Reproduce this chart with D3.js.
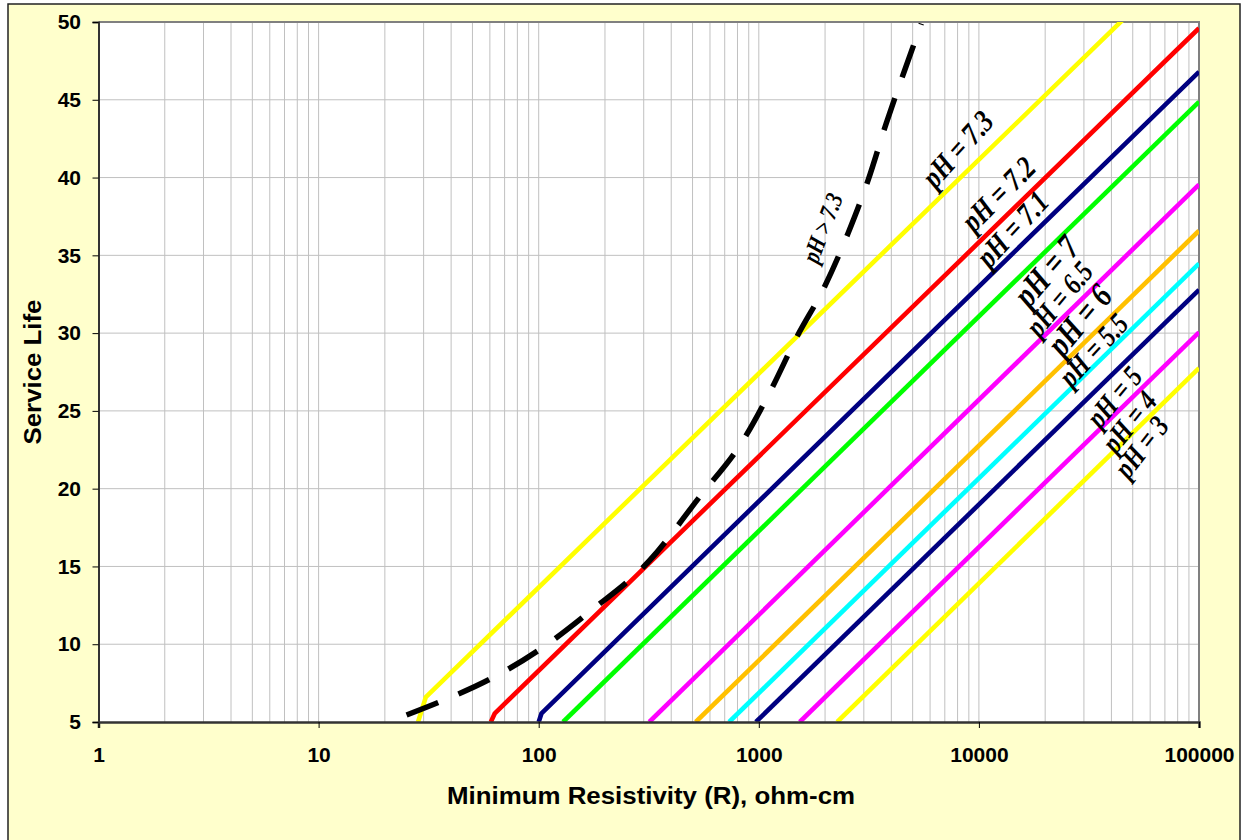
<!DOCTYPE html>
<html>
<head>
<meta charset="utf-8">
<script src="https://cdn.jsdelivr.net/npm/d3@7"></script>
<style>
  html, body { margin: 0; padding: 0; background: #ffffff; }
  svg { display: block; }
</style>
</head>
<body>
<svg id="chart" width="1244" height="840"></svg>
<script>
// ---------- DATA ----------
const xTickValues = [1, 10, 100, 1000, 10000, 100000];
const yTickValues = [5, 10, 15, 20, 25, 30, 35, 40, 45, 50];
const xTitle = "Minimum Resistivity (R),  ohm-cm";
const yTitle = "Service Life";

const seriesNames = ["pH = 7.3", "pH = 7.2", "pH = 7.1", "pH = 7", "pH = 6.5",
                     "pH = 6", "pH = 5.5", "pH = 5", "pH = 4", "pH = 3"];
// resistivity (ohm-cm) of each data point
const seriesR = [
  [28.3, 30.7, 100000],
  [60.6, 63.2, 100000],
  [100, 103, 100000],
  [129, 100000],
  [318, 100000],
  [517, 100000],
  [733, 100000],
  [970, 100000],
  [1535, 100000],
  [2270, 100000]
];
// service life (years) of each data point
const seriesLife = [
  [5, 6.6, 54.9],
  [5, 5.56, 49.6],
  [5, 5.56, 46.8],
  [5, 44.87],
  [5, 39.55],
  [5, 36.58],
  [5, 34.47],
  [5, 32.78],
  [5, 30.05],
  [5, 27.75]
];
const seriesColors = ["#FFFF00", "#FF0000", "#000080", "#00FF00", "#FF00FF",
                      "#FFC000", "#00FFFF", "#000080", "#FF00FF", "#FFFF00"];

// dashed curve pH > 7.3
const alkalineName = "pH > 7.3";
const alkalineR    = [25.1, 35.6, 61.1, 104, 169, 320, 540, 848, 1141, 1482, 1992, 2542, 3133, 3796, 4600, 5476];
const alkalineLife = [5.45, 6.3, 7.81, 9.78, 12.05, 15.4, 19.5, 23.1, 26.4, 29.7, 33.0, 36.4, 39.8, 43.5, 46.9, 49.9];

// label anchors in data coordinates
const labelTexts = ["pH > 7.3", "pH = 7.3", "pH = 7.2", "pH = 7.1", "pH = 7", "pH = 6.5",
                    "pH = 6", "pH = 5.5", "pH = 5", "pH = 4", "pH = 3"];
const labelR     = [1950, 8000, 12270, 14220, 20280, 23230, 28640, 33180, 41300, 48300, 54800];
const labelLife  = [36.76, 41.83, 38.94, 36.68, 33.99, 32.19, 30.84, 28.91, 25.89, 24.29, 22.68];
const labelAngle = [-69, -48, -45, -47, -49, -50, -50, -47, -50, -51, -52];
const labelSize  = [20, 25, 25, 25, 28, 24, 28, 24, 24, 24, 24];

// ---------- LAYOUT ----------
const svg = d3.select("#chart");
const plot = { left: 98.5, right: 1199, top: 22, bottom: 722 };

svg.append("rect").attr("x", 8).attr("y", 4).attr("width", 1232).attr("height", 845)
  .attr("fill", "#FFFFCC").attr("stroke", "#222").attr("stroke-width", 1.5);

const x = d3.scaleLog().domain([1, 100000]).range([plot.left, plot.right]);
const y = d3.scaleLinear().domain([5, 50]).range([plot.bottom, plot.top]);

svg.append("rect").attr("x", plot.left).attr("y", plot.top)
  .attr("width", plot.right - plot.left).attr("height", plot.bottom - plot.top)
  .attr("fill", "#FFFFFF");

// grid
const minorX = [];
for (let d = 0; d < 5; d++) for (let k = 1; k <= 9; k++) minorX.push(k * Math.pow(10, d));
minorX.push(100000);
const grid = svg.append("g");
grid.selectAll("line.vx").data(minorX).join("line")
  .attr("x1", d => x(d)).attr("x2", d => x(d))
  .attr("y1", plot.top).attr("y2", plot.bottom)
  .attr("stroke", "#C0C0C0").attr("stroke-width", 1);
grid.selectAll("line.hy").data(yTickValues.slice(1, -1)).join("line")
  .attr("x1", plot.left).attr("x2", plot.right)
  .attr("y1", d => y(d)).attr("y2", d => y(d))
  .attr("stroke", "#C0C0C0").attr("stroke-width", 1);

// plot border (top/right)
svg.append("path")
  .attr("d", `M${plot.left},${plot.top}H${plot.right}V${plot.bottom}`)
  .attr("fill", "none").attr("stroke", "#808080").attr("stroke-width", 2);

// clip
svg.append("clipPath").attr("id", "clip").append("rect")
  .attr("x", plot.left).attr("y", plot.top)
  .attr("width", plot.right - plot.left).attr("height", plot.bottom - plot.top);

const line = d3.line().x(d => x(d[0])).y(d => y(d[1]));
const series = seriesNames.map((n, i) => ({
  name: n, color: seriesColors[i],
  pts: seriesR[i].map((r, j) => [r, seriesLife[i][j]])
}));

const lines = svg.append("g").attr("clip-path", "url(#clip)");
lines.selectAll("path.s").data(series).join("path")
  .attr("d", d => line(d.pts))
  .attr("fill", "none").attr("stroke", d => d.color)
  .attr("stroke-width", 4.6).attr("stroke-linejoin", "round");

const alkPts = alkalineR.map((r, j) => [r, alkalineLife[j]]);
lines.append("path")
  .attr("d", d3.line().x(d => x(d[0])).y(d => y(d[1])).curve(d3.curveMonotoneX)(alkPts))
  .attr("fill", "none").attr("stroke", "#000").attr("stroke-width", 5.5)
  .attr("stroke-dasharray", "34,22");

// axes
const xAxis = d3.axisBottom(x).tickValues(xTickValues).tickFormat(d3.format("d"))
  .tickSize(6).tickPadding(19);
const gx = svg.append("g").attr("transform", `translate(0,${plot.bottom})`).call(xAxis);
gx.select(".domain").attr("stroke", "#333").attr("stroke-width", 2.5);
gx.selectAll(".tick line").attr("stroke", "#000");
gx.selectAll("text").attr("font-family", "Liberation Sans, Arial, sans-serif")
  .attr("font-weight", "bold").attr("font-size", 21).attr("fill", "#000");

const yAxis = d3.axisLeft(y).tickValues(yTickValues).tickSize(6).tickPadding(11.5);
const gy = svg.append("g").attr("transform", `translate(${plot.left},0)`).call(yAxis);
gy.select(".domain").attr("stroke", "#333").attr("stroke-width", 2);
gy.selectAll(".tick line").attr("stroke", "#000");
gy.selectAll("text").attr("font-family", "Liberation Sans, Arial, sans-serif")
  .attr("font-weight", "bold").attr("font-size", 21).attr("fill", "#000");

// titles
svg.append("text").attr("x", 651).attr("y", 804)
  .attr("text-anchor", "middle")
  .attr("font-family", "Liberation Sans, Arial, sans-serif").attr("font-weight", "bold")
  .attr("font-size", 23).attr("textLength", 408).attr("lengthAdjust", "spacingAndGlyphs")
  .text(xTitle);
svg.append("text").attr("transform", "translate(41,372) rotate(-90)")
  .attr("text-anchor", "middle")
  .attr("font-family", "Liberation Sans, Arial, sans-serif").attr("font-weight", "bold")
  .attr("font-size", 23).attr("textLength", 145).attr("lengthAdjust", "spacingAndGlyphs")
  .text(yTitle);

// series labels (taller, condensed glyphs as in the reference)
svg.append("g").selectAll("text").data(labelTexts).join("text")
  .attr("transform", (d, i) => `translate(${x(labelR[i])},${y(labelLife[i])}) rotate(${labelAngle[i]}) scale(1,1.25)`)
  .attr("text-anchor", "middle").attr("dominant-baseline", "central")
  .attr("font-family", "Liberation Serif, Times New Roman, serif")
  .attr("font-weight", "bold").attr("font-style", "italic")
  .attr("font-size", (d, i) => labelSize[i]).attr("fill", "#000")
  .text(d => d);
</script>
</body>
</html>
